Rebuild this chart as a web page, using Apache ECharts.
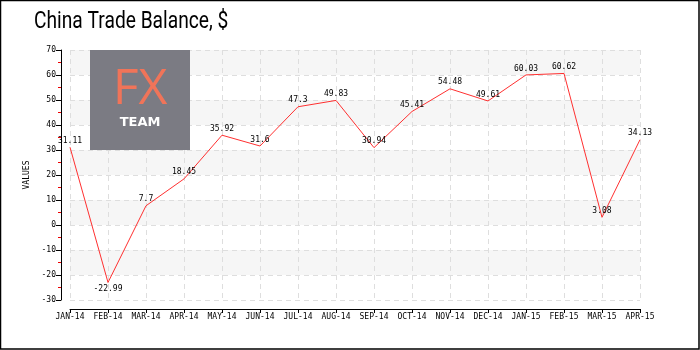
<!DOCTYPE html>
<html>
<head>
<meta charset="utf-8">
<script src="https://cdn.jsdelivr.net/npm/echarts@6/dist/echarts.min.js"></script>
<style>
  html, body { margin: 0; padding: 0; background: #fff; }
  #chart { width: 700px; height: 350px; }
</style>
</head>
<body>
<div id="chart"></div>
<script>
// Monthly China trade balance, Jan 2014 – Apr 2015
const months = ['JAN-14', 'FEB-14', 'MAR-14', 'APR-14', 'MAY-14', 'JUN-14', 'JUL-14', 'AUG-14',
                'SEP-14', 'OCT-14', 'NOV-14', 'DEC-14', 'JAN-15', 'FEB-15', 'MAR-15', 'APR-15'];
const balance = [31.11, -22.99, 7.7, 18.45, 35.92, 31.6, 47.3, 49.83,
                 30.94, 45.41, 54.48, 49.61, 60.03, 60.62, 3.08, 34.13];
const yMin = -30, yMax = 70, yStep = 10;
const chartTitle = 'China Trade Balance, $';

const chart = echarts.init(document.getElementById('chart'));
const smallFont = 'DejaVu Sans Mono';

chart.setOption({
  animation: false,
  backgroundColor: '#fff',
  grid: { left: 70, right: 60, top: 50, bottom: 50 },
  xAxis: {
    type: 'category',
    data: months,
    boundaryGap: false,
    offset: 9,
    axisLine: { onZero: false, lineStyle: { color: '#000', width: 1 } },
    axisTick: { show: true, length: 4, lineStyle: { color: '#000' } },
    axisLabel: { fontFamily: smallFont, fontSize: 8, color: '#000', margin: 4, interval: 0 },
    splitLine: { show: true, lineStyle: { color: '#dedede', type: [5, 4] } }
  },
  yAxis: {
    type: 'value',
    min: yMin, max: yMax, interval: yStep,
    offset: 9,
    name: 'VALUES',
    nameLocation: 'middle',
    nameGap: 27,
    nameRotate: 90,
    nameTextStyle: { fontFamily: smallFont, fontSize: 8, color: '#000' },
    axisLine: { show: true, onZero: false, lineStyle: { color: '#000', width: 1 } },
    axisTick: { show: true, length: 5, lineStyle: { color: '#000' } },
    minorTick: { show: true, splitNumber: 2, length: 3, lineStyle: { color: '#e00' } },
    axisLabel: { fontFamily: smallFont, fontSize: 8, color: '#000', margin: 5 },
    splitLine: { show: true, lineStyle: { color: '#dedede', type: [5, 4] } },
    splitArea: { show: true, areaStyle: { color: ['#fff', '#f6f6f6'] } }
  },
  graphic: [
    // chart title (condensed)
    { type: 'text', x: 34, y: 10, scaleX: 0.8, style: { text: chartTitle, fill: '#000', font: '400 24px Roboto, sans-serif' } },
    // logo block
    { type: 'rect', z: 10, shape: { x: 90, y: 50, width: 100, height: 100 }, style: { fill: '#7b7b83' } },
    { type: 'text', z: 11, x: 140, y: 90, style: { text: 'FX', fill: '#f07459', font: '500 50px "Open Sans", sans-serif', textAlign: 'center', textVerticalAlign: 'middle' } },
    { type: 'text', z: 11, x: 140, y: 123, style: { text: 'TEAM', fill: '#fff', font: 'bold 13px "DejaVu Sans", sans-serif', textAlign: 'center', textVerticalAlign: 'middle' } },
    // outer frame
    {
      type: 'rect', z: 20, silent: true,
      shape: { x: 0.5, y: 0.5, width: 698.5, height: 348.5 },
      style: { fill: 'none', stroke: '#000', lineWidth: 1.5 }
    }
  ],
  series: [{
    type: 'line',
    data: balance.map(v => ({
      value: v,
      label: { position: v < 0 ? 'bottom' : 'top' }
    })),
    symbol: 'circle',
    symbolSize: 1,
    itemStyle: { color: 'rgba(255,48,48,0)' },
    lineStyle: { color: '#ff3030', width: 1 },
    label: {
      show: true,
      distance: 2,
      fontFamily: smallFont, fontSize: 8, color: '#000'
    }
  }]
});
</script>
</body>
</html>
